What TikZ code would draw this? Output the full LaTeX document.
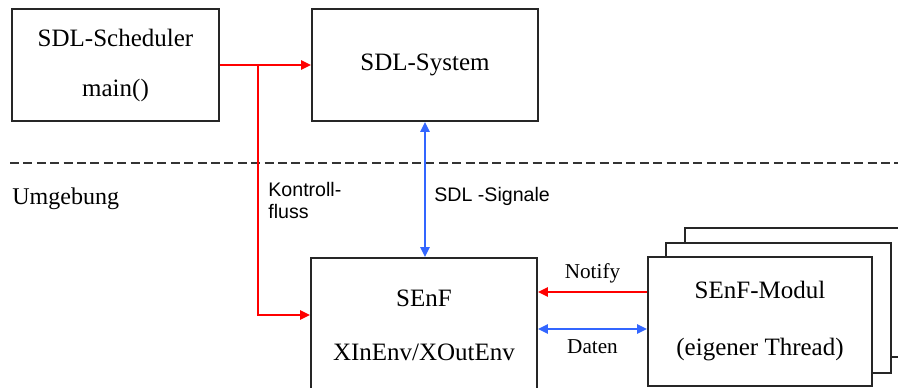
\documentclass[tikz,border=0pt]{standalone}
\usepackage{fontspec}
\setmainfont{Liberation Serif}
\setsansfont{Liberation Sans}
\usetikzlibrary{arrows.meta,positioning}
\definecolor{sdlblue}{RGB}{51,102,255}

\begin{document}
\begin{tikzpicture}[x=0.5pt, y=-0.5pt, >={Triangle[length=5pt,width=4.6pt]}]
      \tikzset{
	  block/.style={rectangle, draw=black!85, line width=0.9pt, fill=white, align=center, inner sep=0pt, font=\fontsize{12.5}{25}\selectfont},
	  ctrl/.style={draw=red, line width=1pt, ->},
	  sig/.style={draw=sdlblue, line width=1pt, <->},
	  mylabel/.style={font=\sffamily\fontsize{9.8}{11}\selectfont, align=left, inner sep=0pt},
	  arrowlabel/.style={font=\fontsize{10.6}{12}\selectfont, inner sep=0pt}
      }

      \useasboundingbox (0,0) rectangle (898,387);
      \clip (0,0) rectangle (898,387);

      % upper part
      \node[block, minimum width=103.5pt, minimum height=56pt] (sched) at (115.5,65) {SDL-Scheduler\\main()};
      \node[block, minimum width=113pt, minimum height=56pt] (system) at (425,65) {SDL-System};

      \draw[black!80, line width=0.6pt, dash pattern=on 4.5pt off 2.2pt] (10,163) -- (898,163);
      \node[anchor=west, inner sep=0pt, font=\fontsize{12}{14}\selectfont] (umgebung) at (12,199) {Umgebung};

      % environment
      \node[block, minimum width=113pt, minimum height=67pt] (senf) at (424,325) {SEnF\\[2pt]XInEnv/XOutEnv};
      \draw[block] (685,228) rectangle (920,357);
      \draw[block] (666,243) rectangle (891,373);
      \node[block, minimum width=112pt, minimum height=64.5pt] (modul) at (760,321.5) {SEnF-Modul\\[3.5pt](eigener Thread)};

      % connectors
      \coordinate (branch) at (258,65);
      \draw[ctrl] (sched) -- (system);
      \draw[ctrl] (branch) |- ([yshift=5pt]senf.west);
      \draw[sig] (system.south) -- (system.south |- senf.north);
      \draw[ctrl] ([yshift=14.75pt]modul.west) -- ([yshift=14.75pt]modul.west -| senf.east) node[arrowlabel, midway, above=4pt] (notify) {Notify};
      \draw[sig] ([yshift=-3.75pt]modul.west) -- ([yshift=-3.75pt]modul.west -| senf.east) node[arrowlabel, midway, below=5pt] (daten) {Daten};

      \node[mylabel, anchor=north west] (kontroll) at (268,182) {Kontroll-\\fluss};
      \node[mylabel, anchor=west] (signale) at (434,196) {SDL -Signale};
\end{tikzpicture}
\end{document}
